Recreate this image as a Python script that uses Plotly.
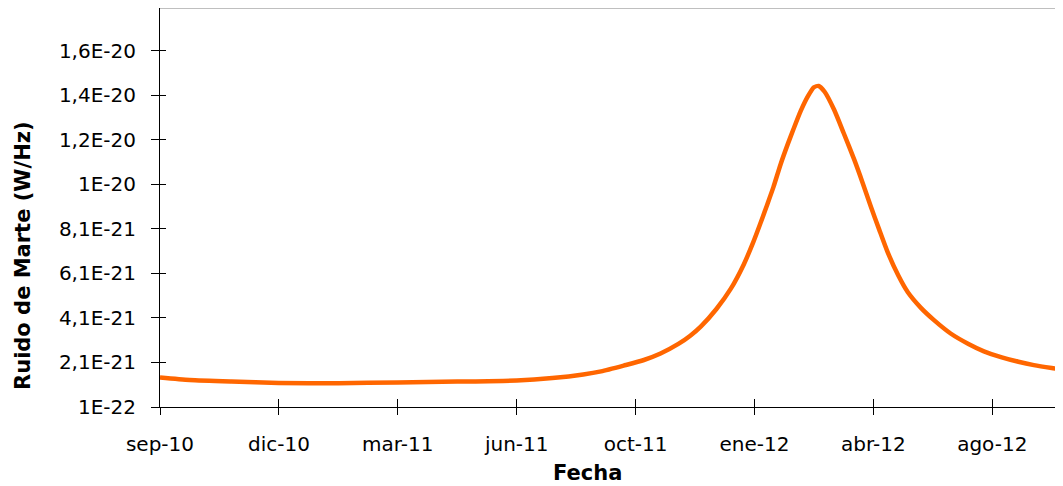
import plotly.graph_objects as go

# Ruido de Marte (W/Hz) vs fecha
fechas = [
    "2010-09-01", "2010-09-26", "2010-10-31", "2010-12-10", "2011-01-29",
    "2011-03-20", "2011-05-09", "2011-06-28", "2011-07-28", "2011-08-23",
    "2011-09-07", "2011-09-26", "2011-10-13", "2011-10-27", "2011-11-11",
    "2011-11-21", "2011-11-30", "2011-12-13", "2011-12-25", "2012-01-05",
    "2012-01-13", "2012-01-18", "2012-01-24", "2012-01-30", "2012-02-05",
    "2012-02-11", "2012-02-16", "2012-02-22", "2012-02-28", "2012-03-04",
    "2012-03-08", "2012-03-13", "2012-03-21", "2012-03-29", "2012-04-07",
    "2012-04-14", "2012-04-21", "2012-04-28", "2012-05-05", "2012-05-14",
    "2012-05-22", "2012-06-02", "2012-06-13", "2012-06-27", "2012-07-12",
    "2012-07-25", "2012-08-09", "2012-08-23", "2012-09-05", "2012-09-20",
    "2012-10-02",
]
ruido = [
    1.42e-21, 1.31e-21, 1.24e-21, 1.18e-21, 1.17e-21,
    1.20e-21, 1.24e-21, 1.29e-21, 1.40e-21, 1.56e-21,
    1.70e-21, 1.96e-21, 2.21e-21, 2.50e-21, 2.93e-21,
    3.30e-21, 3.72e-21, 4.50e-21, 5.40e-21, 6.50e-21,
    7.50e-21, 8.20e-21, 9.08e-21, 9.98e-21, 1.100e-20,
    1.190e-20, 1.260e-20, 1.340e-20, 1.405e-20, 1.445e-20,
    1.451e-20, 1.425e-20, 1.344e-20, 1.240e-20, 1.119e-20,
    1.016e-20, 9.08e-21, 8.05e-21, 7.05e-21, 6.00e-21,
    5.25e-21, 4.55e-21, 4.00e-21, 3.40e-21, 2.93e-21,
    2.60e-21, 2.33e-21, 2.13e-21, 1.98e-21, 1.85e-21,
    1.76e-21,
]

x_ticks = ["2010-09-01", "2010-12-10", "2011-03-20", "2011-06-28",
           "2011-10-06", "2012-01-14", "2012-04-23", "2012-08-01"]
x_labels = ["sep-10", "dic-10", "mar-11", "jun-11",
            "oct-11", "ene-12", "abr-12", "ago-12"]
y_ticks = [1e-22, 2.1e-21, 4.1e-21, 6.1e-21, 8.1e-21,
           1.01e-20, 1.21e-20, 1.41e-20, 1.61e-20]
y_labels = ["1E-22", "2,1E-21", "4,1E-21", "6,1E-21", "8,1E-21",
            "1E-20", "1,2E-20", "1,4E-20", "1,6E-20"]

x_range = ["2010-09-01", "2012-09-29 12:00"]
y_range = [1e-22, 1.801e-20]

fig = go.Figure()
fig.add_trace(go.Scatter(
    x=fechas, y=ruido, mode="lines",
    line=dict(color="#FF6600", width=4.5, shape="spline", smoothing=0.6),
    showlegend=False, hoverinfo="skip",
))

font_ticks = dict(family="DejaVu Sans", size=20, color="#000000")

# la pagina deja 8px de margen alrededor de la figura
fig.update_layout(
    width=1055, height=478,
    margin=dict(l=152, r=0, t=0, b=79),
    paper_bgcolor="white", plot_bgcolor="white",
    xaxis=dict(
        type="date", range=x_range,
        tickvals=x_ticks, ticktext=x_labels,
        ticks="outside", ticklen=7, tickcolor="#000000", tickwidth=1,
        showline=True, linecolor="#000000", linewidth=1,
        showgrid=False, zeroline=False,
        tickfont=font_ticks, ticklabelstandoff=12,
    ),
    xaxis2=dict(
        type="date", range=x_range, overlaying="x", side="bottom",
        tickvals=x_ticks, ticks="inside", ticklen=8, tickcolor="#000000",
        showticklabels=False, showline=False, showgrid=False, zeroline=False,
    ),
    yaxis=dict(
        range=y_range,
        tickvals=y_ticks, ticktext=y_labels,
        ticks="outside", ticklen=8, tickcolor="#000000", tickwidth=1,
        showline=True, linecolor="#000000", linewidth=1,
        showgrid=False, zeroline=False,
        tickfont=font_ticks, ticklabelstandoff=11,
    ),
    yaxis2=dict(
        range=y_range, overlaying="y", side="left",
        tickvals=y_ticks, ticks="inside", ticklen=6, tickcolor="#000000",
        showticklabels=False, showline=False, showgrid=False, zeroline=False,
    ),
    shapes=[dict(type="line", xref="paper", yref="paper",
                 x0=0, x1=1, y0=1, y1=1,
                 line=dict(color="#808080", width=1))],
    annotations=[
        dict(text="<b>Ruido de Marte (W/Hz)</b>", textangle=-90,
             xref="paper", yref="paper", x=-0.1517, y=0.3785,
             xanchor="center", yanchor="middle", showarrow=False,
             font=dict(family="DejaVu Sans", size=21, color="#000000")),
        dict(text="<b>Fecha</b>",
             xref="paper", yref="paper", x=0.4729, y=-0.1654,
             xanchor="center", yanchor="middle", showarrow=False,
             font=dict(family="DejaVu Sans", size=21, color="#000000")),
    ],
)

# traza vacia para que existan los ejes secundarios (marcas en cruz)
fig.add_trace(go.Scatter(x=[x_range[0]], y=[y_range[0]], xaxis="x2", yaxis="y2",
                         mode="markers", marker=dict(opacity=0),
                         showlegend=False, hoverinfo="skip"))

fig.write_html("out.html")
